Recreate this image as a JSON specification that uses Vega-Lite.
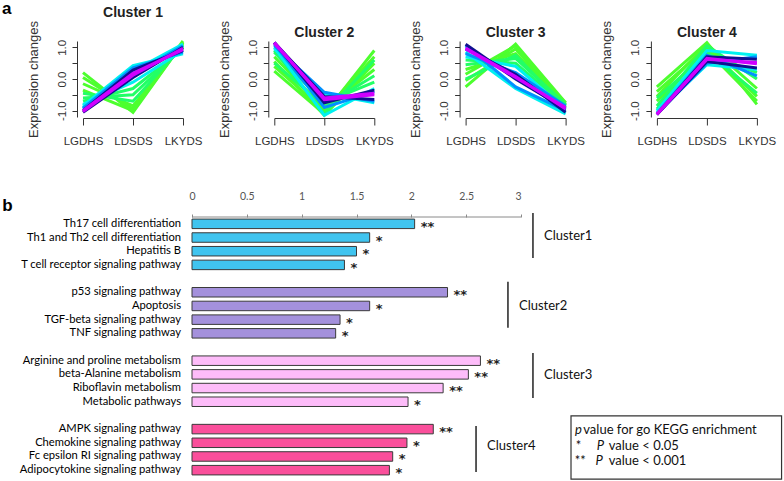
{
 "$schema": "https://vega.github.io/schema/vega-lite/v6.json",
 "background": "white",
 "padding": {"left": 2, "top": 0, "right": 0, "bottom": 0},
 "datasets": {
  "lines": [
   {"c":1,"id":"1a","m":"m1","s":"LGDHS","v":0.2},{"c":1,"id":"1a","m":"m1","s":"LDSDS","v":-1.05},{"c":1,"id":"1a","m":"m1","s":"LKYDS","v":1.15},
   {"c":1,"id":"1b","m":"m1","s":"LGDHS","v":0.05},{"c":1,"id":"1b","m":"m1","s":"LDSDS","v":-0.95},{"c":1,"id":"1b","m":"m1","s":"LKYDS","v":1.2},
   {"c":1,"id":"1c","m":"m1","s":"LGDHS","v":-0.15},{"c":1,"id":"1c","m":"m1","s":"LDSDS","v":-0.85},{"c":1,"id":"1c","m":"m1","s":"LKYDS","v":1.1},
   {"c":1,"id":"1d","m":"m1","s":"LGDHS","v":-0.35},{"c":1,"id":"1d","m":"m1","s":"LDSDS","v":-1.0},{"c":1,"id":"1d","m":"m1","s":"LKYDS","v":1.15},
   {"c":1,"id":"1e","m":"m2","s":"LGDHS","v":-0.45},{"c":1,"id":"1e","m":"m2","s":"LDSDS","v":-0.7},{"c":1,"id":"1e","m":"m2","s":"LKYDS","v":1.05},
   {"c":1,"id":"1f","m":"m2","s":"LGDHS","v":-0.6},{"c":1,"id":"1f","m":"m2","s":"LDSDS","v":-0.5},{"c":1,"id":"1f","m":"m2","s":"LKYDS","v":1.0},
   {"c":1,"id":"1g","m":"m2","s":"LGDHS","v":-0.7},{"c":1,"id":"1g","m":"m2","s":"LDSDS","v":-0.3},{"c":1,"id":"1g","m":"m2","s":"LKYDS","v":0.95},
   {"c":1,"id":"1h","m":"m3","s":"LGDHS","v":-0.8},{"c":1,"id":"1h","m":"m3","s":"LDSDS","v":-0.1},{"c":1,"id":"1h","m":"m3","s":"LKYDS","v":0.9},
   {"c":1,"id":"1i","m":"m3","s":"LGDHS","v":-0.85},{"c":1,"id":"1i","m":"m3","s":"LDSDS","v":0.42},{"c":1,"id":"1i","m":"m3","s":"LKYDS","v":0.8},
   {"c":1,"id":"1j","m":"m3","s":"LGDHS","v":-0.9},{"c":1,"id":"1j","m":"m3","s":"LDSDS","v":0.25},{"c":1,"id":"1j","m":"m3","s":"LKYDS","v":1.1},
   {"c":1,"id":"1k","m":"m4","s":"LGDHS","v":-0.92},{"c":1,"id":"1k","m":"m4","s":"LDSDS","v":0.35},{"c":1,"id":"1k","m":"m4","s":"LKYDS","v":0.85},
   {"c":1,"id":"1l","m":"m4","s":"LGDHS","v":-0.95},{"c":1,"id":"1l","m":"m4","s":"LDSDS","v":0.15},{"c":1,"id":"1l","m":"m4","s":"LKYDS","v":1.05},
   {"c":1,"id":"1m","m":"m5","s":"LGDHS","v":-1.0},{"c":1,"id":"1m","m":"m5","s":"LDSDS","v":0.28},{"c":1,"id":"1m","m":"m5","s":"LKYDS","v":0.9},
   {"c":1,"id":"1n","m":"m5","s":"LGDHS","v":-1.05},{"c":1,"id":"1n","m":"m5","s":"LDSDS","v":0.05},{"c":1,"id":"1n","m":"m5","s":"LKYDS","v":1.0},
   {"c":1,"id":"1o","m":"m6","s":"LGDHS","v":-1.03},{"c":1,"id":"1o","m":"m6","s":"LDSDS","v":0.12},{"c":1,"id":"1o","m":"m6","s":"LKYDS","v":0.97},
   {"c":1,"id":"1p","m":"m6","s":"LGDHS","v":-1.0},{"c":1,"id":"1p","m":"m6","s":"LDSDS","v":0.18},{"c":1,"id":"1p","m":"m6","s":"LKYDS","v":0.93},

   {"c":2,"id":"2a","m":"m1","s":"LGDHS","v":0.25},{"c":2,"id":"2a","m":"m1","s":"LDSDS","v":-1.1},{"c":2,"id":"2a","m":"m1","s":"LKYDS","v":0.9},
   {"c":2,"id":"2b","m":"m1","s":"LGDHS","v":0.4},{"c":2,"id":"2b","m":"m1","s":"LDSDS","v":-1.0},{"c":2,"id":"2b","m":"m1","s":"LKYDS","v":0.7},
   {"c":2,"id":"2c","m":"m1","s":"LGDHS","v":0.55},{"c":2,"id":"2c","m":"m1","s":"LDSDS","v":-1.15},{"c":2,"id":"2c","m":"m1","s":"LKYDS","v":0.5},
   {"c":2,"id":"2d","m":"m1","s":"LGDHS","v":0.7},{"c":2,"id":"2d","m":"m1","s":"LDSDS","v":-0.95},{"c":2,"id":"2d","m":"m1","s":"LKYDS","v":0.3},
   {"c":2,"id":"2e","m":"m2","s":"LGDHS","v":0.5},{"c":2,"id":"2e","m":"m2","s":"LDSDS","v":-0.85},{"c":2,"id":"2e","m":"m2","s":"LKYDS","v":0.1},
   {"c":2,"id":"2f","m":"m2","s":"LGDHS","v":0.85},{"c":2,"id":"2f","m":"m2","s":"LDSDS","v":-0.75},{"c":2,"id":"2f","m":"m2","s":"LKYDS","v":-0.1},
   {"c":2,"id":"2g","m":"m2","s":"LGDHS","v":0.9},{"c":2,"id":"2g","m":"m2","s":"LDSDS","v":-1.1},{"c":2,"id":"2g","m":"m2","s":"LKYDS","v":0.6},
   {"c":2,"id":"2h","m":"m3","s":"LGDHS","v":1.0},{"c":2,"id":"2h","m":"m3","s":"LDSDS","v":-1.15},{"c":2,"id":"2h","m":"m3","s":"LKYDS","v":-0.3},
   {"c":2,"id":"2i","m":"m3","s":"LGDHS","v":0.95},{"c":2,"id":"2i","m":"m3","s":"LDSDS","v":-0.45},{"c":2,"id":"2i","m":"m3","s":"LKYDS","v":-0.75},
   {"c":2,"id":"2j","m":"m4","s":"LGDHS","v":1.1},{"c":2,"id":"2j","m":"m4","s":"LDSDS","v":-0.9},{"c":2,"id":"2j","m":"m4","s":"LKYDS","v":-0.4},
   {"c":2,"id":"2k","m":"m4","s":"LGDHS","v":1.05},{"c":2,"id":"2k","m":"m4","s":"LDSDS","v":-0.42},{"c":2,"id":"2k","m":"m4","s":"LKYDS","v":-0.7},
   {"c":2,"id":"2l","m":"m5","s":"LGDHS","v":1.15},{"c":2,"id":"2l","m":"m5","s":"LDSDS","v":-0.75},{"c":2,"id":"2l","m":"m5","s":"LKYDS","v":-0.35},
   {"c":2,"id":"2m","m":"m5","s":"LGDHS","v":1.15},{"c":2,"id":"2m","m":"m5","s":"LDSDS","v":-0.55},{"c":2,"id":"2m","m":"m5","s":"LKYDS","v":-0.65},
   {"c":2,"id":"2n","m":"m6","s":"LGDHS","v":1.15},{"c":2,"id":"2n","m":"m6","s":"LDSDS","v":-0.65},{"c":2,"id":"2n","m":"m6","s":"LKYDS","v":-0.5},
   {"c":2,"id":"2o","m":"m6","s":"LGDHS","v":1.12},{"c":2,"id":"2o","m":"m6","s":"LDSDS","v":-0.6},{"c":2,"id":"2o","m":"m6","s":"LKYDS","v":-0.45},

   {"c":3,"id":"3a","m":"m1","s":"LGDHS","v":-0.25},{"c":3,"id":"3a","m":"m1","s":"LDSDS","v":1.1},{"c":3,"id":"3a","m":"m1","s":"LKYDS","v":-0.75},
   {"c":3,"id":"3b","m":"m1","s":"LGDHS","v":-0.05},{"c":3,"id":"3b","m":"m1","s":"LDSDS","v":0.95},{"c":3,"id":"3b","m":"m1","s":"LKYDS","v":-0.8},
   {"c":3,"id":"3c","m":"m1","s":"LGDHS","v":0.15},{"c":3,"id":"3c","m":"m1","s":"LDSDS","v":1.05},{"c":3,"id":"3c","m":"m1","s":"LKYDS","v":-0.85},
   {"c":3,"id":"3d","m":"m1","s":"LGDHS","v":0.3},{"c":3,"id":"3d","m":"m1","s":"LDSDS","v":0.8},{"c":3,"id":"3d","m":"m1","s":"LKYDS","v":-0.75},
   {"c":3,"id":"3e","m":"m2","s":"LGDHS","v":0.45},{"c":3,"id":"3e","m":"m2","s":"LDSDS","v":0.65},{"c":3,"id":"3e","m":"m2","s":"LKYDS","v":-0.8},
   {"c":3,"id":"3f","m":"m2","s":"LGDHS","v":0.6},{"c":3,"id":"3f","m":"m2","s":"LDSDS","v":0.5},{"c":3,"id":"3f","m":"m2","s":"LKYDS","v":-0.85},
   {"c":3,"id":"3g","m":"m2","s":"LGDHS","v":0.0},{"c":3,"id":"3g","m":"m2","s":"LDSDS","v":0.75},{"c":3,"id":"3g","m":"m2","s":"LKYDS","v":-0.9},
   {"c":3,"id":"3h","m":"m3","s":"LGDHS","v":0.7},{"c":3,"id":"3h","m":"m3","s":"LDSDS","v":0.4},{"c":3,"id":"3h","m":"m3","s":"LKYDS","v":-0.95},
   {"c":3,"id":"3i","m":"m3","s":"LGDHS","v":0.85},{"c":3,"id":"3i","m":"m3","s":"LDSDS","v":-0.3},{"c":3,"id":"3i","m":"m3","s":"LKYDS","v":-1.1},
   {"c":3,"id":"3j","m":"m4","s":"LGDHS","v":1.05},{"c":3,"id":"3j","m":"m4","s":"LDSDS","v":-0.25},{"c":3,"id":"3j","m":"m4","s":"LKYDS","v":-1.0},
   {"c":3,"id":"3k","m":"m4","s":"LGDHS","v":0.8},{"c":3,"id":"3k","m":"m4","s":"LDSDS","v":0.2},{"c":3,"id":"3k","m":"m4","s":"LKYDS","v":-0.85},
   {"c":3,"id":"3l","m":"m5","s":"LGDHS","v":1.1},{"c":3,"id":"3l","m":"m5","s":"LDSDS","v":0.0},{"c":3,"id":"3l","m":"m5","s":"LKYDS","v":-0.95},
   {"c":3,"id":"3m","m":"m5","s":"LGDHS","v":0.95},{"c":3,"id":"3m","m":"m5","s":"LDSDS","v":0.15},{"c":3,"id":"3m","m":"m5","s":"LKYDS","v":-1.05},
   {"c":3,"id":"3n","m":"m6","s":"LGDHS","v":0.95},{"c":3,"id":"3n","m":"m6","s":"LDSDS","v":0.05},{"c":3,"id":"3n","m":"m6","s":"LKYDS","v":-0.9},
   {"c":3,"id":"3o","m":"m6","s":"LGDHS","v":0.98},{"c":3,"id":"3o","m":"m6","s":"LDSDS","v":0.08},{"c":3,"id":"3o","m":"m6","s":"LKYDS","v":-0.95},

   {"c":4,"id":"4a","m":"m1","s":"LGDHS","v":-0.25},{"c":4,"id":"4a","m":"m1","s":"LDSDS","v":1.15},{"c":4,"id":"4a","m":"m1","s":"LKYDS","v":-0.8},
   {"c":4,"id":"4b","m":"m1","s":"LGDHS","v":-0.4},{"c":4,"id":"4b","m":"m1","s":"LDSDS","v":1.0},{"c":4,"id":"4b","m":"m1","s":"LKYDS","v":-0.55},
   {"c":4,"id":"4c","m":"m1","s":"LGDHS","v":-0.55},{"c":4,"id":"4c","m":"m1","s":"LDSDS","v":1.1},{"c":4,"id":"4c","m":"m1","s":"LKYDS","v":-0.3},
   {"c":4,"id":"4d","m":"m1","s":"LGDHS","v":-0.7},{"c":4,"id":"4d","m":"m1","s":"LDSDS","v":0.9},{"c":4,"id":"4d","m":"m1","s":"LKYDS","v":-0.7},
   {"c":4,"id":"4e","m":"m2","s":"LGDHS","v":-0.85},{"c":4,"id":"4e","m":"m2","s":"LDSDS","v":1.05},{"c":4,"id":"4e","m":"m2","s":"LKYDS","v":0.0},
   {"c":4,"id":"4f","m":"m2","s":"LGDHS","v":-0.95},{"c":4,"id":"4f","m":"m2","s":"LDSDS","v":0.85},{"c":4,"id":"4f","m":"m2","s":"LKYDS","v":-0.45},
   {"c":4,"id":"4g","m":"m2","s":"LGDHS","v":-0.6},{"c":4,"id":"4g","m":"m2","s":"LDSDS","v":0.8},{"c":4,"id":"4g","m":"m2","s":"LKYDS","v":0.2},
   {"c":4,"id":"4h","m":"m3","s":"LGDHS","v":-1.0},{"c":4,"id":"4h","m":"m3","s":"LDSDS","v":0.9},{"c":4,"id":"4h","m":"m3","s":"LKYDS","v":0.75},
   {"c":4,"id":"4i","m":"m3","s":"LGDHS","v":-1.05},{"c":4,"id":"4i","m":"m3","s":"LDSDS","v":0.45},{"c":4,"id":"4i","m":"m3","s":"LKYDS","v":0.3},
   {"c":4,"id":"4j","m":"m4","s":"LGDHS","v":-1.1},{"c":4,"id":"4j","m":"m4","s":"LDSDS","v":0.75},{"c":4,"id":"4j","m":"m4","s":"LKYDS","v":0.1},
   {"c":4,"id":"4k","m":"m4","s":"LGDHS","v":-1.1},{"c":4,"id":"4k","m":"m4","s":"LDSDS","v":0.5},{"c":4,"id":"4k","m":"m4","s":"LKYDS","v":0.7},
   {"c":4,"id":"4l","m":"m5","s":"LGDHS","v":-1.12},{"c":4,"id":"4l","m":"m5","s":"LDSDS","v":0.55},{"c":4,"id":"4l","m":"m5","s":"LKYDS","v":0.35},
   {"c":4,"id":"4m","m":"m5","s":"LGDHS","v":-1.12},{"c":4,"id":"4m","m":"m5","s":"LDSDS","v":0.7},{"c":4,"id":"4m","m":"m5","s":"LKYDS","v":0.62},
   {"c":4,"id":"4n","m":"m6","s":"LGDHS","v":-1.12},{"c":4,"id":"4n","m":"m6","s":"LDSDS","v":0.62},{"c":4,"id":"4n","m":"m6","s":"LKYDS","v":0.52},
   {"c":4,"id":"4o","m":"m6","s":"LGDHS","v":-1.1},{"c":4,"id":"4o","m":"m6","s":"LDSDS","v":0.65},{"c":4,"id":"4o","m":"m6","s":"LKYDS","v":0.48}
  ],
  "bars": [
   {"name":"Th17 cell differentiation","row":0,"value":2.03,"sig":"**","cl":"Cluster1"},
   {"name":"Th1 and Th2 cell differentiation","row":1,"value":1.62,"sig":"*","cl":"Cluster1"},
   {"name":"Hepatitis B","row":2,"value":1.5,"sig":"*","cl":"Cluster1"},
   {"name":"T cell receptor signaling pathway","row":3,"value":1.39,"sig":"*","cl":"Cluster1"},
   {"name":"p53 signaling pathway","row":5,"value":2.33,"sig":"**","cl":"Cluster2"},
   {"name":"Apoptosis","row":6,"value":1.62,"sig":"*","cl":"Cluster2"},
   {"name":"TGF-beta signaling pathway","row":7,"value":1.35,"sig":"*","cl":"Cluster2"},
   {"name":"TNF signaling pathway","row":8,"value":1.31,"sig":"*","cl":"Cluster2"},
   {"name":"Arginine and proline metabolism","row":10,"value":2.63,"sig":"**","cl":"Cluster3"},
   {"name":"beta-Alanine metabolism","row":11,"value":2.52,"sig":"**","cl":"Cluster3"},
   {"name":"Riboflavin metabolism","row":12,"value":2.29,"sig":"**","cl":"Cluster3"},
   {"name":"Metabolic pathways","row":13,"value":1.97,"sig":"*","cl":"Cluster3"},
   {"name":"AMPK signaling pathway","row":15,"value":2.2,"sig":"**","cl":"Cluster4"},
   {"name":"Chemokine signaling pathway","row":16,"value":1.96,"sig":"*","cl":"Cluster4"},
   {"name":"Fc epsilon RI signaling pathway","row":17,"value":1.83,"sig":"*","cl":"Cluster4"},
   {"name":"Adipocytokine signaling pathway","row":18,"value":1.8,"sig":"*","cl":"Cluster4"}
  ],
  "axisline": [{"x1":0,"x2":3,"y":-0.5}],
  "brackets": [
   {"cl":"Cluster1","lx":3.109,"y1":-0.8,"y2":2.49,"ty":0.88},
   {"cl":"Cluster2","lx":2.881,"y1":4.24,"y2":7.6,"ty":6.0},
   {"cl":"Cluster3","lx":3.109,"y1":9.43,"y2":12.72,"ty":11.04},
   {"cl":"Cluster4","lx":2.59,"y1":14.77,"y2":18.13,"ty":16.23}
  ],
  "legendbox": [{"x1":3.456,"x2":5.376,"y1":14.04,"y2":18.65}],
  "legendtext": [
   {"t":"value for go KEGG enrichment","x":3.568,"row":15.05},
   {"t":"*","x":3.5,"row":16.2},
   {"t":"value < 0.05","x":3.8,"row":16.2},
   {"t":"**","x":3.49,"row":17.35},
   {"t":"value < 0.001","x":3.8,"row":17.35}
  ],
  "legenditalic": [
   {"t":"p","x":3.492,"row":15.05},
   {"t":"P","x":3.69,"row":16.2},
   {"t":"P","x":3.68,"row":17.35}
  ],
  "letters": [{"t":"b","x":-1.73,"row":-1.3}]
 },
 "vconcat": [
  {
   "hconcat": [
    {
     "width": 100, "height": 76,
     "title": {"text": "Cluster 1"},
     "encoding": {
      "x": {"field":"s","type":"ordinal","sort":["LGDHS","LDSDS","LKYDS"],"scale":{"type":"point","padding":0},
            "axis":{"title":null,"labelAngle":0,"offset":1,"tickSize":7,"labelPadding":10,"labelFont":"Liberation Sans","labelFontSize":11.5,"labelColor":"#333","domainColor":"#333","tickColor":"#333"}},
      "y": {"field":"v","type":"quantitative","scale":{"domain":[-1.2,1.2],"nice":false,"zero":false},
            "axis":{"values":[-1,-0.5,0,0.5,1],"labelExpr":"datum.value == 1 ? '1.0' : datum.value == 0 ? '0.0' : datum.value == -1 ? '-1.0' : ''","labelAngle":-90,"labelAlign":"center","labelBaseline":"bottom","tickSize":5,"offset":6,"labelPadding":5,"labelFont":"Liberation Sans","labelFontSize":11.5,"labelColor":"#333","domainColor":"#333","tickColor":"#333","title":"Expression changes","titleFont":"Liberation Sans","titleFontSize":13,"titleFontWeight":"normal","titleColor":"#333","titlePadding":16}}
     },
     "layer": [
      {"data":{"name":"lines"},"transform":[{"filter":"datum.c == 1"}],
       "mark":{"type":"line","strokeWidth":3},
       "encoding":{"color":{"field":"m","type":"nominal","scale":{"domain":["m1","m2","m3","m4","m5","m6"],"range":["#4dff2e","#22ff66","#00f0f0","#0090ff","#101090","#d000ff"]},"legend":null},
                   "detail":{"field":"id"},"order":{"value":null}}},
      {"data":{"values":[{"t":"a","s":"LGDHS","v":2.2}]},
       "mark":{"type":"text","align":"left","baseline":"middle","dx":-81,"font":"Liberation Sans","fontSize":17,"fontWeight":"bold","color":"#000"},
       "encoding":{"text":{"field":"t"}}}
     ]
    },
    {
     "width": 100, "height": 76,
     "title": {"text": "Cluster 2"},
     "data":{"name":"lines"},"transform":[{"filter":"datum.c == 2"}],
     "mark":{"type":"line","strokeWidth":3},
     "encoding": {
      "x": {"field":"s","type":"ordinal","sort":["LGDHS","LDSDS","LKYDS"],"scale":{"type":"point","padding":0},
            "axis":{"title":null,"labelAngle":0,"offset":1,"tickSize":7,"labelPadding":10,"labelFont":"Liberation Sans","labelFontSize":11.5,"labelColor":"#333","domainColor":"#333","tickColor":"#333"}},
      "y": {"field":"v","type":"quantitative","scale":{"domain":[-1.2,1.2],"nice":false,"zero":false},
            "axis":{"values":[-1,-0.5,0,0.5,1],"labelExpr":"datum.value == 1 ? '1.0' : datum.value == 0 ? '0.0' : datum.value == -1 ? '-1.0' : ''","labelAngle":-90,"labelAlign":"center","labelBaseline":"bottom","tickSize":5,"offset":6,"labelPadding":5,"labelFont":"Liberation Sans","labelFontSize":11.5,"labelColor":"#333","domainColor":"#333","tickColor":"#333","title":"Expression changes","titleFont":"Liberation Sans","titleFontSize":13,"titleFontWeight":"normal","titleColor":"#333","titlePadding":16}},
      "color":{"field":"m","type":"nominal","scale":{"domain":["m1","m2","m3","m4","m5","m6"],"range":["#4dff2e","#22ff66","#00f0f0","#0090ff","#101090","#d000ff"]},"legend":null},
      "detail":{"field":"id"},"order":{"value":null}
     }
    },
    {
     "width": 100, "height": 76,
     "title": {"text": "Cluster 3"},
     "data":{"name":"lines"},"transform":[{"filter":"datum.c == 3"}],
     "mark":{"type":"line","strokeWidth":3},
     "encoding": {
      "x": {"field":"s","type":"ordinal","sort":["LGDHS","LDSDS","LKYDS"],"scale":{"type":"point","padding":0},
            "axis":{"title":null,"labelAngle":0,"offset":1,"tickSize":7,"labelPadding":10,"labelFont":"Liberation Sans","labelFontSize":11.5,"labelColor":"#333","domainColor":"#333","tickColor":"#333"}},
      "y": {"field":"v","type":"quantitative","scale":{"domain":[-1.2,1.2],"nice":false,"zero":false},
            "axis":{"values":[-1,-0.5,0,0.5,1],"labelExpr":"datum.value == 1 ? '1.0' : datum.value == 0 ? '0.0' : datum.value == -1 ? '-1.0' : ''","labelAngle":-90,"labelAlign":"center","labelBaseline":"bottom","tickSize":5,"offset":6,"labelPadding":5,"labelFont":"Liberation Sans","labelFontSize":11.5,"labelColor":"#333","domainColor":"#333","tickColor":"#333","title":"Expression changes","titleFont":"Liberation Sans","titleFontSize":13,"titleFontWeight":"normal","titleColor":"#333","titlePadding":16}},
      "color":{"field":"m","type":"nominal","scale":{"domain":["m1","m2","m3","m4","m5","m6"],"range":["#4dff2e","#22ff66","#00f0f0","#0090ff","#101090","#d000ff"]},"legend":null},
      "detail":{"field":"id"},"order":{"value":null}
     }
    },
    {
     "width": 100, "height": 76,
     "title": {"text": "Cluster 4"},
     "data":{"name":"lines"},"transform":[{"filter":"datum.c == 4"}],
     "mark":{"type":"line","strokeWidth":3},
     "encoding": {
      "x": {"field":"s","type":"ordinal","sort":["LGDHS","LDSDS","LKYDS"],"scale":{"type":"point","padding":0},
            "axis":{"title":null,"labelAngle":0,"offset":1,"tickSize":7,"labelPadding":10,"labelFont":"Liberation Sans","labelFontSize":11.5,"labelColor":"#333","domainColor":"#333","tickColor":"#333"}},
      "y": {"field":"v","type":"quantitative","scale":{"domain":[-1.2,1.2],"nice":false,"zero":false},
            "axis":{"values":[-1,-0.5,0,0.5,1],"labelExpr":"datum.value == 1 ? '1.0' : datum.value == 0 ? '0.0' : datum.value == -1 ? '-1.0' : ''","labelAngle":-90,"labelAlign":"center","labelBaseline":"bottom","tickSize":5,"offset":6,"labelPadding":5,"labelFont":"Liberation Sans","labelFontSize":11.5,"labelColor":"#333","domainColor":"#333","tickColor":"#333","title":"Expression changes","titleFont":"Liberation Sans","titleFontSize":13,"titleFontWeight":"normal","titleColor":"#333","titlePadding":16}},
      "color":{"field":"m","type":"nominal","scale":{"domain":["m1","m2","m3","m4","m5","m6"],"range":["#4dff2e","#22ff66","#00f0f0","#0090ff","#101090","#d000ff"]},"legend":null},
      "detail":{"field":"id"},"order":{"value":null}
     }
    }
   ],
   "spacing": 91.3,
   "bounds": "flush"
  },
  {
   "width": 438, "height": 260,
   "layer": [
    {"data":{"name":"bars"},
     "mark":{"type":"bar","orient":"horizontal","height":9.5,"stroke":"#3a3a3a","strokeWidth":1},
     "encoding":{
      "x":{"field":"value","type":"quantitative","stack":null,"title":null,"scale":{"domain":[-0.994,3],"nice":false,"zero":false,"padding":0},
           "axis":{"orient":"top","values":[0,0.5,1,1.5,2,2.5,3],"format":"~g","title":null,"domain":false,"ticks":true,"tickSize":3,"tickColor":"#8a8a8a","labelColor":"#555","labelFont":"Lato","labelFontSize":10.5,"labelPadding":13,"grid":false}},
      "y":{"field":"row","type":"quantitative","title":null,"scale":{"domain":[-0.5,18.5],"nice":false,"zero":false,"reverse":true,"padding":0},"axis":null},
      "color":{"field":"cl","type":"nominal","scale":{"domain":["Cluster1","Cluster2","Cluster3","Cluster4"],"range":["#40c4ef","#a491dc","#fdbcf9","#fa4f9b"]},"legend":null}
     }},
    {"data":{"name":"axisline"},
     "mark":{"type":"rule","stroke":"#8a8a8a","strokeWidth":1},
     "encoding":{
      "x":{"field":"x1","type":"quantitative","title":null,"scale":{"domain":[-0.994,3],"nice":false,"zero":false,"padding":0}},
      "x2":{"field":"x2"},
      "y":{"field":"y","type":"quantitative","title":null,"scale":{"domain":[-0.5,18.5],"nice":false,"zero":false,"reverse":true,"padding":0},"axis":null}
     }},
    {"data":{"name":"bars"},
     "mark":{"type":"text","align":"left","baseline":"middle","dx":6,"dy":3,"font":"DejaVu Sans","fontSize":13,"fontWeight":"bold","color":"#222"},
     "encoding":{
      "x":{"field":"value","type":"quantitative","title":null,"scale":{"domain":[-0.994,3],"nice":false,"zero":false,"padding":0}},
      "y":{"field":"row","type":"quantitative","title":null,"scale":{"domain":[-0.5,18.5],"nice":false,"zero":false,"reverse":true,"padding":0},"axis":null},
      "text":{"field":"sig"}
     }},
    {"data":{"name":"bars"},
     "mark":{"type":"text","align":"right","baseline":"middle","dx":-11,"font":"Lato","fontSize":11.2,"color":"#000"},
     "encoding":{
      "x":{"datum":0,"type":"quantitative","title":null,"scale":{"domain":[-0.994,3],"nice":false,"zero":false,"padding":0}},
      "y":{"field":"row","type":"quantitative","title":null,"scale":{"domain":[-0.5,18.5],"nice":false,"zero":false,"reverse":true,"padding":0},"axis":null},
      "text":{"field":"name"}
     }},
    {"data":{"name":"brackets"},
     "mark":{"type":"rule","stroke":"#222","strokeWidth":1.5},
     "encoding":{
      "x":{"field":"lx","type":"quantitative","title":null,"scale":{"domain":[-0.994,3],"nice":false,"zero":false,"padding":0}},
      "y":{"field":"y1","type":"quantitative","title":null,"scale":{"domain":[-0.5,18.5],"nice":false,"zero":false,"reverse":true,"padding":0},"axis":null},
      "y2":{"field":"y2"}
     }},
    {"data":{"name":"brackets"},
     "mark":{"type":"text","align":"left","baseline":"middle","dx":11,"font":"Lato","fontSize":13,"color":"#111"},
     "encoding":{
      "x":{"field":"lx","type":"quantitative","title":null,"scale":{"domain":[-0.994,3],"nice":false,"zero":false,"padding":0}},
      "y":{"field":"ty","type":"quantitative","title":null,"scale":{"domain":[-0.5,18.5],"nice":false,"zero":false,"reverse":true,"padding":0},"axis":null},
      "text":{"field":"cl"}
     }},
    {"data":{"name":"legendbox"},
     "mark":{"type":"rect","fill":"white","stroke":"#333","strokeWidth":1.2},
     "encoding":{
      "x":{"field":"x1","type":"quantitative","title":null,"scale":{"domain":[-0.994,3],"nice":false,"zero":false,"padding":0}},
      "x2":{"field":"x2"},
      "y":{"field":"y1","type":"quantitative","title":null,"scale":{"domain":[-0.5,18.5],"nice":false,"zero":false,"reverse":true,"padding":0},"axis":null},
      "y2":{"field":"y2"}
     }},
    {"data":{"name":"legendtext"},
     "mark":{"type":"text","align":"left","baseline":"middle","font":"Lato","fontSize":13,"color":"#111"},
     "encoding":{
      "x":{"field":"x","type":"quantitative","title":null,"scale":{"domain":[-0.994,3],"nice":false,"zero":false,"padding":0}},
      "y":{"field":"row","type":"quantitative","title":null,"scale":{"domain":[-0.5,18.5],"nice":false,"zero":false,"reverse":true,"padding":0},"axis":null},
      "text":{"field":"t"}
     }},
    {"data":{"name":"legenditalic"},
     "mark":{"type":"text","align":"left","baseline":"middle","font":"Lato","fontSize":13,"fontStyle":"italic","color":"#111"},
     "encoding":{
      "x":{"field":"x","type":"quantitative","title":null,"scale":{"domain":[-0.994,3],"nice":false,"zero":false,"padding":0}},
      "y":{"field":"row","type":"quantitative","title":null,"scale":{"domain":[-0.5,18.5],"nice":false,"zero":false,"reverse":true,"padding":0},"axis":null},
      "text":{"field":"t"}
     }},
    {"data":{"name":"letters"},
     "mark":{"type":"text","align":"left","baseline":"middle","font":"Liberation Sans","fontSize":17,"fontWeight":"bold","color":"#000"},
     "encoding":{
      "x":{"field":"x","type":"quantitative","title":null,"scale":{"domain":[-0.994,3],"nice":false,"zero":false,"padding":0}},
      "y":{"field":"row","type":"quantitative","title":null,"scale":{"domain":[-0.5,18.5],"nice":false,"zero":false,"reverse":true,"padding":0},"axis":null},
      "text":{"field":"t"}
     }}
   ]
  }
 ],
 "spacing": 44,
 "resolve": {"scale": {"color": "independent"}},
 "config": {
  "view": {"stroke": null},
  "axis": {"grid": false},
  "title": {"font": "Liberation Sans", "fontSize": 14, "fontWeight": "bold", "color": "#222", "dy": 24}
 }
}
